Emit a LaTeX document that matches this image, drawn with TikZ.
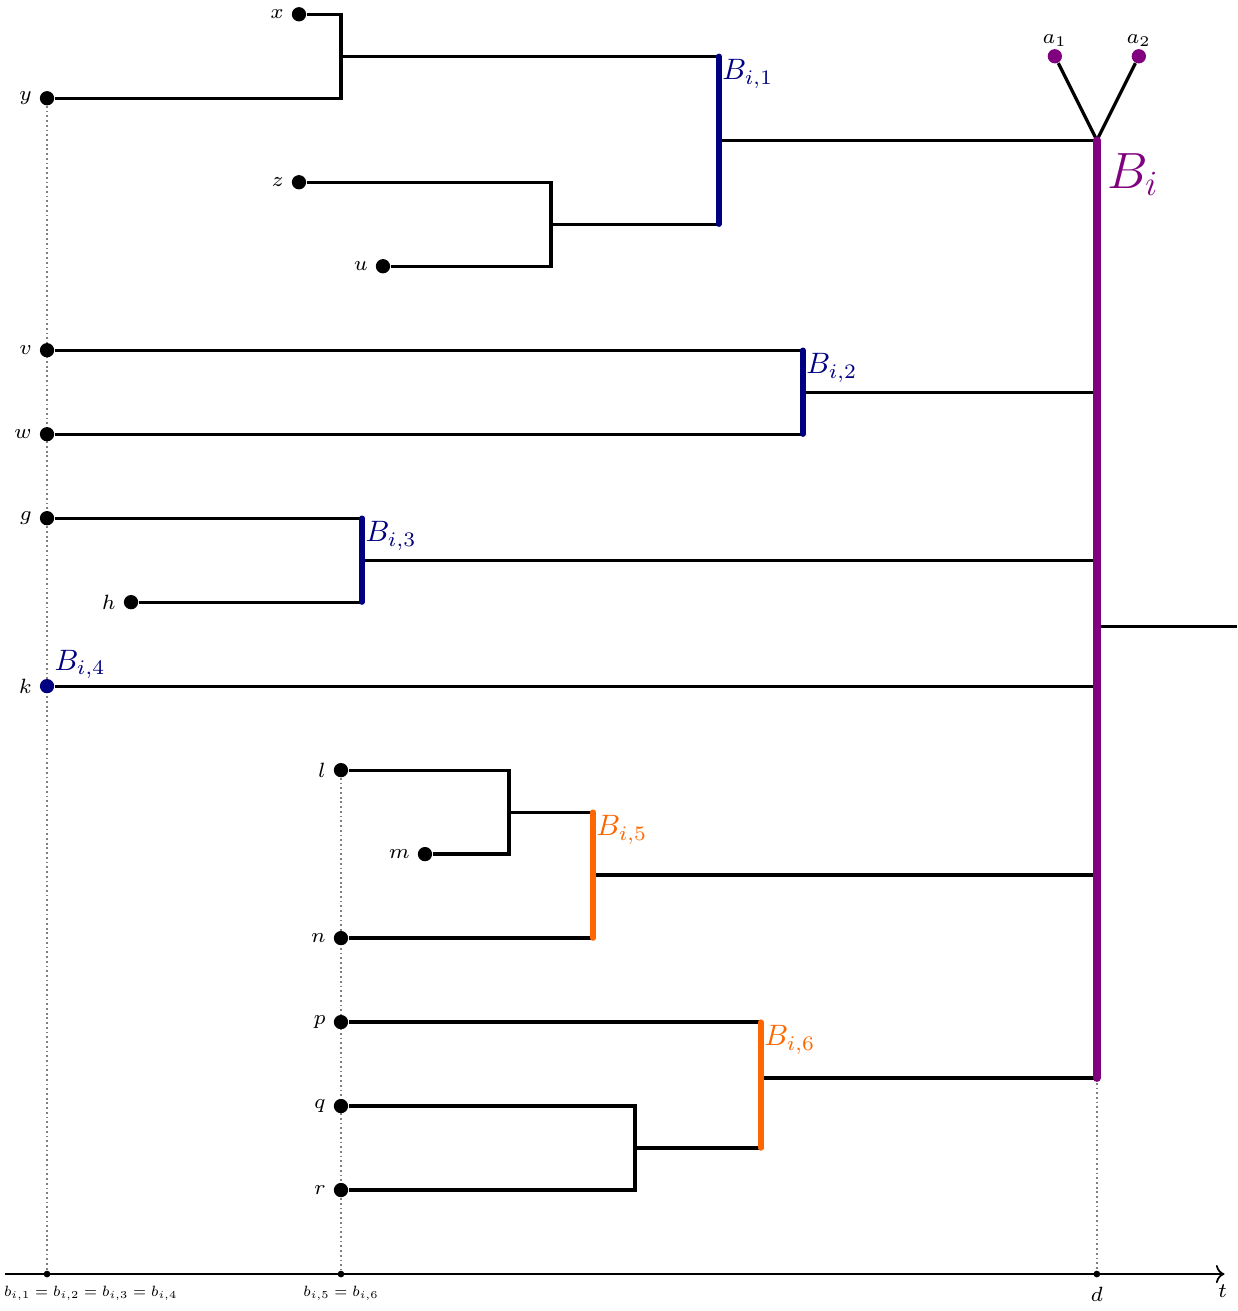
\documentclass[tikz,border=0pt]{standalone}
\usetikzlibrary{arrows.meta,positioning,backgrounds}
\definecolor{bnavy}{RGB}{0,0,128}
\definecolor{borange}{RGB}{255,102,0}
\definecolor{bpurple}{RGB}{128,0,128}
\begin{document}
\begin{tikzpicture}
  \useasboundingbox(-0.56,-0.44)rectangle(14.18,15.17);
  \tikzstyle{leaf}=[circle,fill=black,inner sep=0pt,minimum size=1.7mm,label distance=-0.6mm]
  \tikzstyle{tick}=[circle,fill=black,inner sep=0pt,minimum size=0.8mm]
  \tikzstyle{e}=[draw=black,line width=1.1pt]
  \tikzstyle{guide}=[draw=gray,densely dotted,semithick]
  \tikzstyle{bar}=[line width=1.8pt,line cap=round]
  \tikzstyle{blab}=[anchor=north west,inner sep=1pt,font=\normalsize]
  \tikzstyle{tlab}=[anchor=north,scale=0.72,transform shape]
  \scriptsize
  % time axis
  \coordinate(t0)at(-0.5,0);\coordinate(t1)at(14.02,0);
  \node[tick](b1)at(0,0){};\node[tick](b5)at(3.5,0){};\node[tick](d)at(12.5,0){};
  \node[tlab](lb1)at(0.52,-0.08){$b_{i,1}=b_{i,2}=b_{i,3}=b_{i,4}$};
  \node[tlab](lb5)at(3.5,-0.08){$b_{i,5}=b_{i,6}$};
  \node[below=0.2mm of d](ld){$d$};
  \node[below left=0.4mm and -1.2mm of t1](lt){$t$};
  % leaves
  \foreach\n/\x/\y in{x/3/15,y/0/14,z/3/13,u/4/12,v/0/11,w/0/10,g/0/9,h/1/8,l/3.5/6,m/4.5/5,n/3.5/4,p/3.5/3,q/3.5/2,r/3.5/1}{\node[leaf,label=left:$\n$](\n)at(\x,\y){};}
  \node[leaf,fill=bnavy,label=left:$k$,label={[text=bnavy,font=\normalsize,inner sep=0.5pt,label distance=0mm]above right:$B_{i,4}$}](k)at(0,7){};
  \node[leaf,fill=bpurple,label={[inner sep=0.5pt]above:$a_1$}](a1)at(12,14.5){};
  \node[leaf,fill=bpurple,label={[inner sep=0.5pt]above:$a_2$}](a2)at(13,14.5){};
  % merge points and blocks
  \coordinate(xy)at(3.5,14.5);\coordinate(zu)at(6,12.5);\coordinate(lm)at(5.5,5.5);\coordinate(qr)at(7,1.5);
  \coordinate(B1t)at(8,14.5);\coordinate(B1b)at(8,12.5);\coordinate(B1o)at(8,13.5);
  \coordinate(B2t)at(9,11);\coordinate(B2b)at(9,10);\coordinate(B2o)at(9,10.5);
  \coordinate(B3t)at(3.75,9);\coordinate(B3b)at(3.75,8);\coordinate(B3o)at(3.75,8.5);
  \coordinate(B5t)at(6.5,5.5);\coordinate(B5b)at(6.5,4);\coordinate(B5o)at(6.5,4.75);
  \coordinate(B6t)at(8.5,3);\coordinate(B6b)at(8.5,1.5);\coordinate(B6o)at(8.5,2.333);
  \coordinate(Bt)at(12.5,13.5);\coordinate(Bb)at(12.5,2.333);\coordinate(Bo)at(12.5,7.714);\coordinate(root)at(14.17,7.714);
  % guides
  \begin{pgfonlayer}{background}
    \draw[guide](y)--(b1);\draw[guide](l)--(b5);\draw[guide](Bb)--(d);
  \end{pgfonlayer}
  \draw[semithick,-To](t0)--(t1);
  % connectors
  \foreach\o/\d in{x/xy,y/xy,z/zu,u/zu,l/lm,m/lm,q/qr,r/qr}{\draw[e](\o)-|(\d);}
  \foreach\o/\d in{xy/B1t,zu/B1b,v/B2t,w/B2b,g/B3t,h/B3b,lm/B5t,n/B5b,p/B6t,qr/B6b,B1o/Bt,B6o/Bb,Bo/root,a1/Bt,a2/Bt}{\draw[e](\o)--(\d);}
  \foreach\o in{B2o,B3o,k,B5o}{\draw[e](\o)--(\o-|Bt);}
  % blocks
  \draw[bar,bnavy](B1t)--(B1b);\draw[bar,bnavy](B2t)--(B2b);\draw[bar,bnavy](B3t)--(B3b);
  \draw[bar,borange](B5t)--(B5b);\draw[bar,borange](B6t)--(B6b);
  \draw[bar,bpurple,line width=2.6pt](Bt)--(Bb);
  \node[blab,text=bnavy](lB1)at(B1t){$B_{i,1}$};
  \node[blab,text=bnavy](lB2)at(B2t){$B_{i,2}$};
  \node[blab,text=bnavy](lB3)at(B3t){$B_{i,3}$};
  \node[blab,text=borange](lB5)at(B5t){$B_{i,5}$};
  \node[blab,text=borange](lB6)at(B6t){$B_{i,6}$};
  \node[below right=1.5mm and 1.2mm of Bt,inner sep=0pt,text=bpurple,font=\LARGE](lB){$B_i$};
\end{tikzpicture}
\end{document}
